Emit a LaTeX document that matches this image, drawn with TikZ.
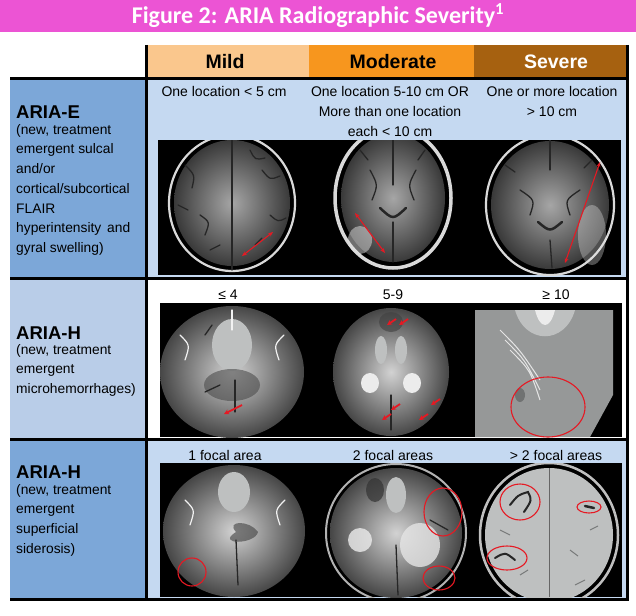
\documentclass[tikz,border=0pt]{standalone}
\usepackage{fontspec}
\setmainfont{Liberation Sans}
\newfontfamily\titlefont{Carlito}
\usetikzlibrary{arrows.meta}
\definecolor{pinkbar}{RGB}{236,84,212}
\definecolor{mildc}{RGB}{250,199,141}
\definecolor{modc}{RGB}{247,150,30}
\definecolor{sevc}{RGB}{166,97,16}
\definecolor{leftdark}{RGB}{124,167,216}
\definecolor{leftlight}{RGB}{185,205,232}
\definecolor{cellblue}{RGB}{197,217,241}
\definecolor{redmark}{RGB}{230,25,35}
\definecolor{flair}{RGB}{128,136,136}
\definecolor{tgray}{RGB}{150,152,152}
\definecolor{tlight}{RGB}{190,192,192}
\begin{document}
\begin{tikzpicture}[x=1pt,y=-1pt,
  hdr/.style={font=\fontsize{19.5}{21}\selectfont\bfseries, inner sep=0},
  celltxt/.style={font=\fontsize{14}{20}\selectfont, align=center, inner sep=0},
  rowtitle/.style={font=\fontsize{18.5}{20}\selectfont\bfseries, anchor=west, inner sep=0},
  rowdesc/.style={font=\fontsize{13.8}{19.7}\selectfont, anchor=north west, align=left, inner sep=0},
  gridline/.style={line width=3pt, black},
  redarrow/.style={draw=redmark, line width=1.1pt, {Stealth[length=5pt,width=4pt]}-{Stealth[length=5pt,width=4pt]}},
  smallarrow/.style={draw=redmark, line width=1.8pt, -{Stealth[length=5pt,width=5pt]}},
  redring/.style={draw=redmark, line width=1.1pt},
  skull/.style={draw=white!70!gray, line width=2.2pt},
  sulcus/.style={draw=black!85, line width=1.3pt, line cap=round},
  tsulcus/.style={draw=white!90!gray, line width=1.2pt, line cap=round},
  flairfill/.style={inner color=gray!70, outer color=gray!45!black},
  t2fill/.style={inner color=white!65!gray, outer color=gray!55!black}
]
\useasboundingbox (0,0) rectangle (636,615);
\fill[white] (0,0) rectangle (636,615);

% title bar
\fill[pinkbar] (0,0) rectangle (636,32);
\node[text=white, inner sep=0] (title) at (318,16)
  {\titlefont\bfseries\fontsize{24}{26}\selectfont Figure 2: ARIA Radiographic Severity\textsuperscript{1}};

% header cells
\fill[mildc] (147,45) rectangle (309,78);
\fill[modc] (309,45) rectangle (474,78);
\fill[sevc] (474,45) rectangle (626,78);
\node[hdr] (hmild) at (225,62) {Mild};
\node[hdr] (hmod) at (393,62) {Moderate};
\node[hdr, text=white] (hsev) at (556,62) {Severe};

% row backgrounds
\fill[leftdark] (10,78) rectangle (146,278);
\fill[cellblue] (146,78) rectangle (626,278);
\fill[leftlight] (10,278) rectangle (146,440);
\fill[leftdark] (10,440) rectangle (146,599);
\fill[cellblue] (146,440) rectangle (626,599);

% ---------- Row 1 images (FLAIR) ----------
\begin{scope}
\clip (158,140) rectangle (621,275);
\fill[black] (158,140) rectangle (621,275);
% mild
\draw[skull] (232,203) ellipse [x radius=63, y radius=68];
\shade[flairfill] (232,203) ellipse [x radius=58, y radius=63];
\draw[sulcus] (232,140) -- (232,270);
\draw[sulcus] (185,165) .. controls (195,175) .. (192,188);
\draw[sulcus] (200,215) .. controls (210,222) .. (205,235);
\draw[sulcus] (262,170) .. controls (270,180) .. (280,176);
\draw[sulcus] (270,215) .. controls (278,222) .. (286,218);
\draw[sulcus] (178,205) -- (188,210);
\draw[sulcus] (250,150) .. controls (255,160) .. (265,158);
\draw[sulcus] (210,250) -- (220,245);
\draw[sulcus] (255,245) -- (262,238);
% moderate
\draw[skull, line width=3.5pt] (393,198) ellipse [x radius=58, y radius=70];
\shade[flairfill] (393,198) ellipse [x radius=52, y radius=64];
\draw[sulcus] (393,140) -- (393,185);
\draw[sulcus] (370,170) .. controls (378,185) .. (372,200);
\draw[sulcus] (416,170) .. controls (408,185) .. (414,200);
\draw[sulcus, line width=2.5pt] (380,208) .. controls (393,220) .. (406,208);
\draw[sulcus] (393,222) -- (393,262);
\draw[sulcus] (360,150) -- (368,160);
\draw[sulcus] (425,150) -- (418,160);
\fill[white!75!gray, opacity=0.5] (360,240) ellipse [x radius=12, y radius=14];
% severe
\draw[skull] (550,205) ellipse [x radius=64, y radius=70];
\shade[flairfill] (550,205) ellipse [x radius=59, y radius=64];
\fill[white!80!gray, opacity=0.35] (592,235) ellipse [x radius=14, y radius=30];
\draw[sulcus] (550,140) -- (550,170);
\draw[sulcus] (520,190) .. controls (535,200) .. (530,215);
\draw[sulcus] (580,190) .. controls (565,200) .. (570,215);
\draw[sulcus, line width=2.5pt] (538,222) .. controls (550,232) .. (562,222);
\draw[sulcus] (550,240) -- (552,268);
\draw[sulcus] (505,165) -- (515,172);
\draw[sulcus] (592,160) -- (584,168);
\end{scope}
\coordinate (a1s) at (242,256); \coordinate (a1e) at (273,232);
\coordinate (a2s) at (355,213); \coordinate (a2e) at (385,253);
\coordinate (a3s) at (565,263); \coordinate (a3e) at (600,162);
\draw[redarrow] (a1s) -- (a1e);
\draw[redarrow] (a2s) -- (a2e);
\draw[redarrow] (a3s) -- (a3e);

% ---------- Row 2 images (microhemorrhages) ----------
\begin{scope}
\clip (160,303) rectangle (622,437);
\fill[black] (160,303) rectangle (622,437);
% mild
\shade[t2fill] (232,372) ellipse [x radius=72, y radius=66];
\fill[tlight] (232,345) ellipse [x radius=20, y radius=26];
\fill[gray!60!black, opacity=0.6] (232,385) ellipse [x radius=28, y radius=16];
\draw[tsulcus] (232,310) -- (232,330);
\draw[tsulcus] (180,335) .. controls (190,345) .. (185,360);
\draw[tsulcus] (284,335) .. controls (274,345) .. (279,360);
\draw[sulcus] (235,380) -- (235,412);
\draw[sulcus] (205,392) -- (220,385);
\draw[sulcus] (212,325) -- (205,335);
% moderate
\shade[t2fill] (391,372) ellipse [x radius=58, y radius=64];
\fill[gray!50!black, opacity=0.6] (391,322) ellipse [x radius=12, y radius=10];
\fill[tlight] (381,350) ellipse [x radius=6, y radius=14];
\fill[tlight] (401,350) ellipse [x radius=6, y radius=14];
\fill[white!85!gray] (370,383) ellipse [x radius=9, y radius=10];
\fill[white!85!gray] (412,383) ellipse [x radius=9, y radius=10];
\draw[sulcus] (391,395) -- (391,430);
% severe
\fill[tgray] (475,310) -- (613,310) -- (613,395) -- (590,437) -- (475,437) -- cycle;
\fill[tlight] (515,310) .. controls (525,345) and (565,345) .. (575,310) -- cycle;
\fill[white!85!gray] (535,310) .. controls (540,330) and (550,330) .. (555,310) -- cycle;
\draw[white!80!gray, line width=1pt] (500,330) .. controls (520,350) .. (540,380)
  (505,340) .. controls (525,360) .. (540,390) (510,350) .. controls (530,370) .. (540,400);
\fill[tgray!75!black] (520,395) ellipse [x radius=5, y radius=7];
\end{scope}
\coordinate (b1s) at (242,405); \coordinate (b1e) at (224,414);
\draw[smallarrow] (b1s) -- (b1e);
\coordinate (m1s) at (396,319); \coordinate (m1e) at (387,325);
\coordinate (m2s) at (408,319); \coordinate (m2e) at (399,325);
\coordinate (m3s) at (400,404); \coordinate (m3e) at (391,410);
\coordinate (m4s) at (391,414); \coordinate (m4e) at (382,420);
\coordinate (m5s) at (440,399); \coordinate (m5e) at (431,405);
\coordinate (m6s) at (428,414); \coordinate (m6e) at (419,420);
\draw[smallarrow] (m1s) -- (m1e);
\draw[smallarrow] (m2s) -- (m2e);
\draw[smallarrow] (m3s) -- (m3e);
\draw[smallarrow] (m4s) -- (m4e);
\draw[smallarrow] (m5s) -- (m5e);
\draw[smallarrow] (m6s) -- (m6e);
\draw[redring] (548,407) ellipse [x radius=37, y radius=30];

% ---------- Row 3 images (siderosis) ----------
\begin{scope}
\clip (160,463) rectangle (622,597);
\fill[black] (160,463) rectangle (622,597);
% mild
\shade[t2fill] (234,531) ellipse [x radius=71, y radius=66];
\fill[tlight] (234,492) ellipse [x radius=16, y radius=20];
\fill[gray!50!black, opacity=0.6] (236,532) .. controls (215,545) and (255,545) .. (258,532)
  .. controls (250,520) and (225,520) .. cycle;
\draw[sulcus] (236,540) -- (238,585);
\draw[tsulcus] (185,500) .. controls (195,510) .. (190,525);
\draw[tsulcus] (285,500) .. controls (275,510) .. (280,525);
% moderate
\draw[draw=gray!60, line width=2pt] (396,533) ellipse [x radius=70, y radius=69];
\shade[t2fill] (396,533) ellipse [x radius=66, y radius=65];
\fill[gray!40!black, opacity=0.7] (375,490) ellipse [x radius=9, y radius=12];
\fill[tlight] (396,495) ellipse [x radius=10, y radius=18];
\fill[white!80!gray, opacity=0.8] (420,545) ellipse [x radius=20, y radius=22];
\fill[white!85!gray, opacity=0.8] (360,540) ellipse [x radius=12, y radius=12];
\draw[sulcus] (396,545) -- (398,595);
\draw[sulcus] (430,520) -- (448,530);
% severe
\draw[draw=gray!50, line width=2.5pt] (549,535) ellipse [x radius=69, y radius=72];
\fill[tlight] (549,535) ellipse [x radius=64, y radius=67];
\draw[draw=black!60, line width=1pt] (549,468) -- (549,597);
\draw[sulcus, line width=2pt] (510,505) .. controls (518,495) .. (528,492) .. controls (532,500) .. (524,512);
\draw[sulcus, line width=2.5pt] (585,506) -- (594,508);
\draw[sulcus, line width=2pt] (495,558) .. controls (505,552) .. (515,560);
\draw[tgray!80!black, line width=1pt] (570,550) -- (578,556) (520,575) -- (528,570) (575,585) -- (585,580)
  (500,530) -- (510,535) (590,530) -- (598,526);
\end{scope}
\draw[redring] (192,572) circle [radius=14];
\draw[redring] (443,512) ellipse [x radius=19, y radius=24];
\draw[redring] (439,578) ellipse [x radius=16, y radius=12];
\draw[redring] (520,502) ellipse [x radius=20, y radius=18];
\draw[redring] (589,507) ellipse [x radius=12, y radius=6];
\draw[redring] (507,558) ellipse [x radius=20, y radius=12];

% ---------- grid lines ----------
\draw[gridline] (146,45) -- (146,600.5);
\draw[gridline] (627.5,45) -- (627.5,600.5);
\draw[gridline] (10,78.5) -- (629,78.5);
\draw[gridline] (10,278.5) -- (629,278.5);
\draw[gridline] (10,439.5) -- (629,439.5);
\draw[gridline] (10,599) -- (629,599);

% ---------- cell texts ----------
\node[celltxt] (t1a) at (224,91) {One location < 5 cm};
\node[celltxt] (t1b) at (390,111) {One location 5-10 cm OR\\More than one location\\each < 10 cm};
\node[celltxt] (t1c) at (552,101) {One or more location\\> 10 cm};
\node[celltxt] (t2a) at (228,295) {≤ 4};
\node[celltxt] (t2b) at (393,295) {5-9};
\node[celltxt] (t2c) at (556,295) {≥ 10};
\node[celltxt] (t3a) at (225,455) {1 focal area};
\node[celltxt] (t3b) at (393,455) {2 focal areas};
\node[celltxt] (t3c) at (556,455) {> 2 focal areas};

% ---------- row labels ----------
\node[rowtitle] (r1) at (16,112) {ARIA-E};
\node[rowdesc] (r1d) at (16,124) {(new, treatment\\emergent sulcal\\and/or\\cortical/subcortical\\FLAIR\\\makebox[114pt][s]{hyperintensity and}\\gyral swelling)};
\node[rowtitle] (r2) at (16,333) {ARIA-H};
\node[rowdesc] (r2d) at (16,344) {(new, treatment\\emergent\\microhemorrhages)};
\node[rowtitle] (r3) at (16,472) {ARIA-H};
\node[rowdesc] (r3d) at (16,484) {(new, treatment\\emergent\\superficial\\siderosis)};
\end{tikzpicture}
\end{document}
